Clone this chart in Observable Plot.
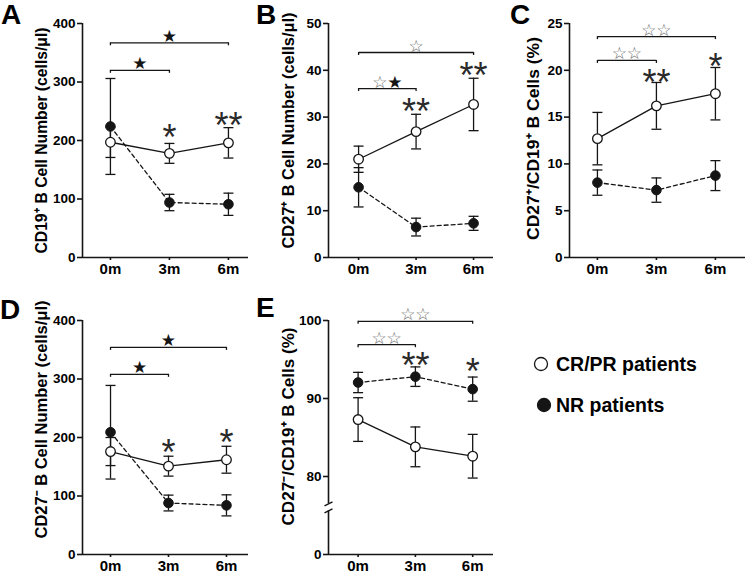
<!DOCTYPE html>
<html>
<head>
<meta charset="utf-8">
<script src="https://cdn.jsdelivr.net/npm/d3@7"></script>
<script src="https://cdn.jsdelivr.net/npm/@observablehq/plot@0.6"></script>
<style>
  body { margin: 0; background: #fff; }
  #root { position: relative; width: 747px; height: 575px; overflow: hidden; background: #fff;
          font-family: "Liberation Sans", Arial, Helvetica, sans-serif; color: #000; }
  #root svg { position: absolute; overflow: visible; }
  .letter { position: absolute; font-size: 28px; font-weight: bold; line-height: 28px; }
  .legtext { position: absolute; font-size: 19.5px; font-weight: bold; line-height: 19.5px; white-space: nowrap; }
</style>
</head>
<body>
<div id="root"></div>
<script>
// ---------------- data ----------------
const months = ["0m", "3m", "6m"];
const monthValues = [0, 3, 6];
const seriesNames = ["CR/PR patients", "NR patients"];

// A: CD19+ B cell number (cells/µl)
const crA = [197, 178, 196];
const crAErr = [26, 17, 26];
const nrA = [224, 94, 91];
const nrAErr = [82, 14, 19];
const ticksA = [0, 100, 200, 300, 400];

// B: CD27+ B cell number (cells/µl)
const crB = [21.0, 26.9, 32.7];
const crBErr = [2.8, 3.7, 5.6];
const nrB = [15.0, 6.5, 7.3];
const nrBErr = [4.2, 1.9, 1.5];
const ticksB = [0, 10, 20, 30, 40, 50];

// C: CD27+/CD19+ B cells (%)
const crC = [12.7, 16.2, 17.5];
const crCErr = [2.8, 2.5, 2.8];
const nrC = [8.0, 7.2, 8.75];
const nrCErr = [1.35, 1.3, 1.6];
const ticksC = [0, 5, 10, 15, 20, 25];

// D: CD27- B cell number (cells/µl)
const crD = [176, 151, 162];
const crDErr = [24, 17, 23];
const nrD = [209, 88, 84];
const nrDErr = [80, 13.5, 18];
const ticksD = [0, 100, 200, 300, 400];

// E: CD27-/CD19+ B cells (%)  (broken axis: bottom of axis is labelled 0)
const crE = [87.3, 83.8, 82.6];
const crEErr = [2.8, 2.55, 2.8];
const nrE = [92.05, 92.8, 91.2];
const nrEErr = [1.3, 1.25, 1.55];
const ticksE = [0, 80, 90, 100];
const axisFloorE = 70; // position on the broken axis where the "0" tick sits

// significance annotations
const bracketsA = [{from: "0m", to: "3m", level: 320, stars: "★"}, {from: "0m", to: "6m", level: 367, stars: "★"}];
const asterisksA = [{at: "3m", level: 219, text: "*"}, {at: "6m", level: 240, text: "**"}];
const bracketsB = [{from: "0m", to: "3m", level: 36.1, stars: "☆★"}, {from: "0m", to: "6m", level: 43.8, stars: "☆"}];
const asterisksB = [{at: "3m", level: 32.9, text: "**"}, {at: "6m", level: 40.6, text: "**"}];
const bracketsC = [{from: "0m", to: "3m", level: 21.05, stars: "☆☆"}, {from: "0m", to: "6m", level: 23.6, stars: "☆☆"}];
const asterisksC = [{at: "3m", level: 19.55, text: "**"}, {at: "6m", level: 21.3, text: "*"}];
const bracketsD = [{from: "0m", to: "3m", level: 308, stars: "★"}, {from: "0m", to: "6m", level: 354, stars: "★"}];
const asterisksD = [{at: "3m", level: 188, text: "*"}, {at: "6m", level: 205, text: "*"}];
const bracketsE = [{from: "0m", to: "3m", level: 96.9, stars: "☆☆"}, {from: "0m", to: "6m", level: 99.9, stars: "☆☆"}];
const asterisksE = [{at: "3m", level: 95.3, text: "**"}, {at: "6m", level: 94.5, text: "*"}];

// ---------------- drawing ----------------
const FONT = '"Liberation Sans", Arial, Helvetica, sans-serif';
const INK = "#151515";
const root = document.getElementById("root");

function makePanel(p) {
  const L = p.layout;
  const mv = l => monthValues[months.indexOf(l)];
  const rows = (vals, errs) => months.map((l, i) => ({m: monthValues[i], v: vals[i], e: errs[i]}));
  const cr = rows(p.cr, p.crErr), nr = rows(p.nr, p.nrErr);
  const frameW = L.width - L.mL - L.mR;
  const pxPerMonth = frameW / (L.xDomain[1] - L.xDomain[0]);
  const capHalf = 5 / pxPerMonth;
  const x0 = L.xDomain[0];
  const y0 = p.yDomain[0], yTop = p.yDomain[1];
  const br = p.brackets.map(b => ({m1: mv(b.from), m2: mv(b.to), y: b.level, stars: b.stars}));
  const ends = br.flatMap(b => [{m: b.m1, y: b.y}, {m: b.m2, y: b.y}]);
  const starItems = br.flatMap(b => {
    const chars = [...b.stars], n = chars.length;
    return chars.map((c, i) => ({m: (b.m1 + b.m2) / 2 + (i - (n - 1) / 2) * 15 / pxPerMonth, y: b.y, c}));
  });
  const ast = p.asterisks.map(a => ({m: mv(a.at), y: a.level, t: a.text}));
  const errRows = [...cr, ...nr];
  const caps = errRows.flatMap(d => [d.v - d.e, d.v + d.e].map(y => ({m: d.m, y})));

  const marks = [];
  if (p.axisBreak) {
    const bk = p.axisBreak;
    marks.push(Plot.ruleX([{y1: bk.upper, y2: yTop}, {y1: y0, y2: bk.lower}],
      {x: () => x0, y1: "y1", y2: "y2", stroke: INK, strokeWidth: 1.6}));
    marks.push(Plot.link([{y: bk.upper}, {y: bk.lower}],
      {x1: () => x0 - 4 / pxPerMonth, x2: () => x0 + 4 / pxPerMonth,
       y1: d => d.y - 2 * p.unitPerPx, y2: d => d.y + 2 * p.unitPerPx, stroke: INK, strokeWidth: 1.4}));
  } else {
    marks.push(Plot.ruleX([x0], {stroke: INK, strokeWidth: 1.6}));
  }
  marks.push(Plot.ruleY([y0], {stroke: INK, strokeWidth: 1.6}));
  marks.push(Plot.axisY({ticks: p.yTickPos, tickFormat: p.yTickFormat, tickSize: 5, tickPadding: 2,
    fontSize: 13.5, fontWeight: "bold", fill: "#000", stroke: INK, strokeWidth: 1.6, label: null}));
  marks.push(Plot.axisX({ticks: monthValues, tickFormat: d => months[monthValues.indexOf(d)], tickSize: 3,
    tickPadding: 3, fontSize: 15, fontWeight: "bold", fill: "#000", stroke: INK, strokeWidth: 1.6, label: null}));
  // error bars
  marks.push(Plot.ruleX(errRows, {x: "m", y1: d => d.v - d.e, y2: d => d.v + d.e, stroke: INK, strokeWidth: 1.3}));
  marks.push(Plot.link(caps, {x1: d => d.m - capHalf, x2: d => d.m + capHalf, y1: "y", y2: "y", stroke: INK, strokeWidth: 1.3}));
  // lines
  marks.push(Plot.line(nr, {x: "m", y: "v", stroke: INK, strokeWidth: 1.3, strokeDasharray: "4,3"}));
  marks.push(Plot.line(cr, {x: "m", y: "v", stroke: INK, strokeWidth: 1.3}));
  // points
  marks.push(Plot.dot(nr, {x: "m", y: "v", r: 4.8, fill: INK, stroke: INK, strokeWidth: 1}));
  marks.push(Plot.dot(cr, {x: "m", y: "v", r: 4.8, fill: "white", stroke: INK, strokeWidth: 1.3}));
  // brackets
  marks.push(Plot.link(br, {x1: "m1", x2: "m2", y1: "y", y2: "y", stroke: INK, strokeWidth: 1.3}));
  marks.push(Plot.ruleX(ends, {x: "m", y1: "y", y2: d => d.y - 3 * p.unitPerPx, stroke: INK, strokeWidth: 1.3}));
  marks.push(Plot.text(starItems.filter(s => s.c === "★"), {x: "m", y: "y", text: "c", fill: INK,
    fontSize: 17, fontWeight: "normal", fontFamily: "DejaVu Sans", lineAnchor: "bottom", dy: -1}));
  marks.push(Plot.text(starItems.filter(s => s.c === "☆"), {x: "m", y: "y", text: "c", fill: "#6a6a6a",
    fontSize: 17, fontWeight: "normal", fontFamily: "DejaVu Sans", lineAnchor: "bottom", dy: -1}));
  // asterisks
  marks.push(Plot.text(ast, {x: "m", y: "y", text: "t", fill: "#2a2a2a", fontSize: 36, fontWeight: "normal",
    fontFamily: FONT, dy: 9}));
  // y title
  marks.push(Plot.text([p.title], {text: d => d, frameAnchor: "left", textAnchor: "middle", dx: p.titleDx, dy: p.titleDy,
    rotate: -90, fontSize: 17, fontWeight: "bold", fill: "#000", fontFamily: FONT}));

  const svg = Plot.plot({
    width: L.width, height: L.height,
    marginLeft: L.mL, marginRight: L.mR, marginTop: L.mT, marginBottom: L.mB,
    x: {type: "linear", domain: L.xDomain},
    y: {type: "linear", domain: p.yDomain},
    style: {fontFamily: FONT, fontWeight: "bold", fontSize: "13px", background: "transparent", overflow: "visible", color: INK},
    marks
  });
  svg.style.left = L.left + "px";
  svg.style.top = L.top + "px";
  svg.querySelectorAll("text").forEach(t => {
    if (t.textContent === p.title) {
      t.setAttribute("textLength", p.titleLen);
      t.setAttribute("lengthAdjust", "spacingAndGlyphs");
    }
  });
  root.appendChild(svg);
}

const plainFormat = d => String(d);

makePanel({cr: crA, crErr: crAErr, nr: nrA, nrErr: nrAErr, yTickPos: ticksA, yTickFormat: plainFormat, yDomain: [0, 400], unitPerPx: 400 / 234,
  brackets: bracketsA, asterisks: asterisksA, title: "CD19⁺ B Cell Number (cells/μl)", titleDx: -41, titleDy: 0, titleLen: 226,
  layout: {left: 0, top: 0, width: 250, height: 285, mL: 82, mR: 2, mT: 23, mB: 28, xDomain: [-1.42, 7.02]}});
makePanel({cr: crB, crErr: crBErr, nr: nrB, nrErr: nrBErr, yTickPos: ticksB, yTickFormat: plainFormat, yDomain: [0, 50], unitPerPx: 50 / 234,
  brackets: bracketsB, asterisks: asterisksB, title: "CD27⁺ B Cell Number (cells/μl)", titleDx: -40, titleDy: -10, titleLen: 236,
  layout: {left: 245, top: 0, width: 250, height: 285, mL: 83, mR: 2, mT: 23, mB: 28, xDomain: [-1.57, 7.04]}});
makePanel({cr: crC, crErr: crCErr, nr: nrC, nrErr: nrCErr, yTickPos: ticksC, yTickFormat: plainFormat, yDomain: [0, 25], unitPerPx: 25 / 234,
  brackets: bracketsC, asterisks: asterisksC, title: "CD27⁺/CD19⁺ B Cells (%)", titleDx: -36, titleDy: -2, titleLen: 203,
  layout: {left: 490, top: 0, width: 257, height: 285, mL: 79, mR: 2, mT: 23, mB: 28, xDomain: [-1.42, 7.53]}});
makePanel({cr: crD, crErr: crDErr, nr: nrD, nrErr: nrDErr, yTickPos: ticksD, yTickFormat: plainFormat, yDomain: [0, 400], unitPerPx: 400 / 234,
  brackets: bracketsD, asterisks: asterisksD, title: "CD27⁻ B Cell Number (cells/μl)", titleDx: -41, titleDy: -18, titleLen: 238,
  layout: {left: 0, top: 290, width: 250, height: 285, mL: 82, mR: 2, mT: 30, mB: 21, xDomain: [-1.45, 7.14]}});
makePanel({cr: crE, crErr: crEErr, nr: nrE, nrErr: nrEErr,
  yTickPos: ticksE.map(t => (t === 0 ? axisFloorE : t)), yTickFormat: d => String(d === axisFloorE ? 0 : d),
  yDomain: [axisFloorE, 100], unitPerPx: 30 / 234, axisBreak: {upper: 76.5, lower: 75.6},
  brackets: bracketsE, asterisks: asterisksE, title: "CD27⁻/CD19⁺ B Cells (%)", titleDx: -40, titleDy: -11, titleLen: 198,
  layout: {left: 245, top: 290, width: 250, height: 285, mL: 83, mR: 2, mT: 30, mB: 21, xDomain: [-1.55, 7.09]}});

// panel letters
[["A", 1, 1.4], ["B", 256, 1.4], ["C", 510, 1.4], ["D", 0, 296.4], ["E", 256, 294.4]].forEach(([t, l, tp]) => {
  const d = document.createElement("div");
  d.className = "letter"; d.textContent = t;
  d.style.left = l + "px"; d.style.top = tp + "px";
  root.appendChild(d);
});

// legend
const ns = "http://www.w3.org/2000/svg";
const legSvg = document.createElementNS(ns, "svg");
legSvg.setAttribute("width", 747); legSvg.setAttribute("height", 575);
legSvg.style.left = "0px"; legSvg.style.top = "0px"; legSvg.style.pointerEvents = "none";
[[541, 364, "white"], [544, 405, INK]].forEach(([cx, cy, f]) => {
  const c = document.createElementNS(ns, "circle");
  c.setAttribute("cx", cx); c.setAttribute("cy", cy); c.setAttribute("r", 6.5);
  c.setAttribute("fill", f); c.setAttribute("stroke", INK); c.setAttribute("stroke-width", 1.3);
  legSvg.appendChild(c);
});
root.appendChild(legSvg);
seriesNames.forEach((name, i) => {
  const d = document.createElement("div");
  d.className = "legtext"; d.textContent = name;
  d.style.left = "556px"; d.style.top = (i === 0 ? 355 : 396) + "px";
  root.appendChild(d);
});
</script>
</body>
</html>
